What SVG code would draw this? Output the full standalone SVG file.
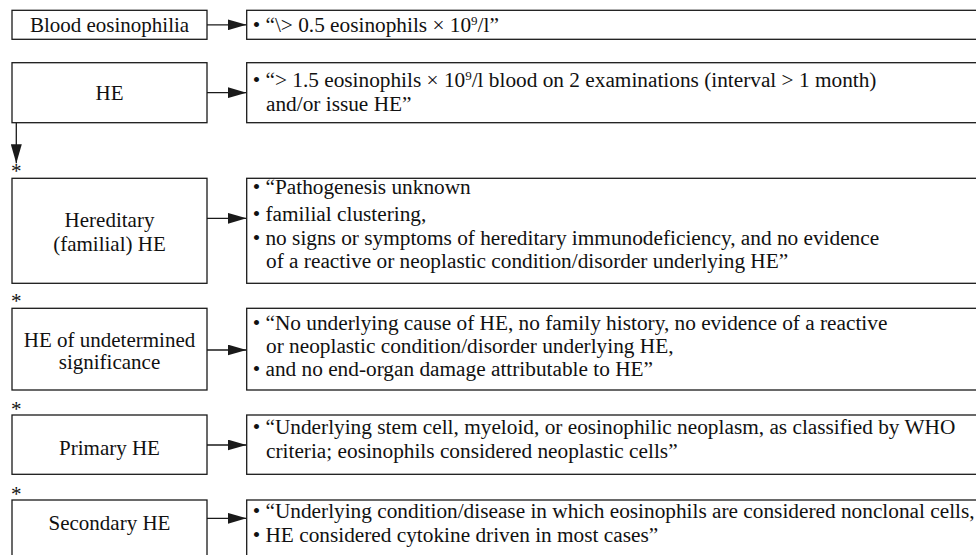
<svg xmlns="http://www.w3.org/2000/svg" width="976" height="555" viewBox="0 0 976 555" font-family="Liberation Serif, Times New Roman, DejaVu Serif, serif">
<defs>
<style>
.box{fill:#fff;stroke:#1a1a1a;stroke-width:1.3}
.lbl{font-size:21px;fill:#111;text-anchor:middle}
.txt{font-size:21.3px;fill:#111}
.star{font-size:21px;fill:#111;text-anchor:middle}
.con{stroke:#1a1a1a;stroke-width:1.3;fill:none;marker-end:url(#ah)}
.sup{font-size:13px}
</style>
<marker id="ah" viewBox="0 0 19 11" refX="19" refY="5.5" markerWidth="19" markerHeight="11" markerUnits="userSpaceOnUse" orient="auto"><path d="M0,0 L19,5.5 L0,11 Z" fill="#1a1a1a"/></marker>
</defs>
<rect width="976" height="555" fill="#fff"/>

<g id="connectors">
<line class="con" x1="207" y1="24.8" x2="246.5" y2="24.8"/>
<line class="con" x1="207" y1="92.7" x2="246.5" y2="92.7"/>
<line class="con" x1="207" y1="218.3" x2="246.5" y2="218.3"/>
<line class="con" x1="207" y1="350" x2="246.5" y2="350"/>
<line class="con" x1="207" y1="445" x2="246.5" y2="445"/>
<line class="con" x1="207" y1="518.3" x2="246.5" y2="518.3"/>
<line class="con" x1="16.3" y1="122.7" x2="16.3" y2="163.3"/>
</g>

<g id="stars">
<text class="star" x="16.3" y="177.5">*</text>
<text class="star" x="16.3" y="307.5">*</text>
<text class="star" x="16.3" y="416">*</text>
<text class="star" x="16.3" y="501">*</text>
</g>

<g id="blood-eosinophilia">
<rect class="box" x="12" y="10.3" width="195" height="29"/>
<text class="lbl" x="109.5" y="32">Blood eosinophilia</text>
</g>
<g id="blood-eosinophilia-def">
<rect class="box" x="246.7" y="10.3" width="760" height="29"/>
<text class="txt" x="252.7" y="32">• “\&gt; 0.5 eosinophils × 10<tspan class="sup" dy="-7">9</tspan><tspan dy="7">/l”</tspan></text>
</g>

<g id="he">
<rect class="box" x="12" y="62.7" width="195" height="60"/>
<text class="lbl" x="109.5" y="100">HE</text>
</g>
<g id="he-def">
<rect class="box" x="246.7" y="62.7" width="760" height="60"/>
<text class="txt" x="252.7" y="87">• “&gt; 1.5 eosinophils × 10<tspan class="sup" dy="-7">9</tspan><tspan dy="7">/l blood on 2 examinations (interval &gt; 1 month)</tspan></text>
<text class="txt" x="266" y="111">and/or issue HE”</text>
</g>

<g id="hereditary-he">
<rect class="box" x="12" y="178.3" width="195" height="105"/>
<text class="lbl" x="109.5" y="226.5">Hereditary</text>
<text class="lbl" x="109.5" y="250.5">(familial) HE</text>
</g>
<g id="hereditary-he-def">
<rect class="box" x="246.7" y="178.3" width="760" height="105"/>
<text class="txt" x="252.7" y="194">• “Pathogenesis unknown</text>
<text class="txt" x="252.7" y="221">• familial clustering,</text>
<text class="txt" x="252.7" y="245">• no signs or symptoms of hereditary immunodeficiency, and no evidence</text>
<text class="txt" x="266" y="268">of a reactive or neoplastic condition/disorder underlying HE”</text>
</g>

<g id="he-us">
<rect class="box" x="12" y="308.3" width="195" height="81.7"/>
<text class="lbl" x="109.5" y="346.5">HE of undetermined</text>
<text class="lbl" x="109.5" y="369">significance</text>
</g>
<g id="he-us-def">
<rect class="box" x="246.7" y="308.3" width="760" height="81.7"/>
<text class="txt" x="252.7" y="330">• “No underlying cause of HE, no family history, no evidence of a reactive</text>
<text class="txt" x="266" y="353">or neoplastic condition/disorder underlying HE,</text>
<text class="txt" x="252.7" y="376">• and no end-organ damage attributable to HE”</text>
</g>

<g id="primary-he">
<rect class="box" x="12" y="415" width="195" height="59.3"/>
<text class="lbl" x="109.5" y="455">Primary HE</text>
</g>
<g id="primary-he-def">
<rect class="box" x="246.7" y="415" width="760" height="59.3"/>
<text class="txt" x="252.7" y="434">• “Underlying stem cell, myeloid, or eosinophilic neoplasm, as classified by WHO</text>
<text class="txt" x="266" y="458">criteria; eosinophils considered neoplastic cells”</text>
</g>

<g id="secondary-he">
<rect class="box" x="12" y="500" width="195" height="70"/>
<text class="lbl" x="109.5" y="530">Secondary HE</text>
</g>
<g id="secondary-he-def">
<rect class="box" x="246.7" y="500" width="760" height="70"/>
<text class="txt" x="252.7" y="518">• “Underlying condition/disease in which eosinophils are considered nonclonal cells,</text>
<text class="txt" x="252.7" y="542">• HE considered cytokine driven in most cases”</text>
</g>
</svg>
